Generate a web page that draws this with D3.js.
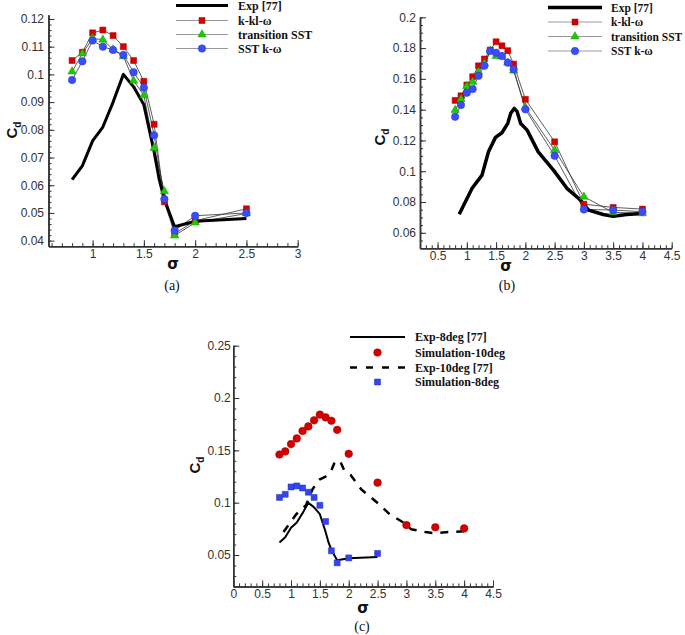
<!DOCTYPE html>
<html><head><meta charset="utf-8">
<script src="https://cdn.jsdelivr.net/npm/d3@7"></script>
<style>body{margin:0;background:#fff}svg{display:block}</style>
</head><body>
<script>
// ---------- DATA ----------
const sigmaA = [0.8,0.9,1.0,1.1,1.2,1.3,1.4,1.5,1.6,1.7,1.8,2.0,2.5];
const kklA   = [0.105,0.108,0.115,0.116,0.114,0.110,0.105,0.0975,0.082,0.054,0.0425,0.0472,0.0515];
const transA = [0.101,0.1075,0.113,0.1125,0.109,0.1065,0.0977,0.0924,0.0734,0.0578,0.0418,0.0465,0.0498];
const sstA   = [0.098,0.1047,0.1122,0.110,0.1088,0.107,0.1008,0.0952,0.078,0.055,0.0437,0.049,0.050];
const expASigma = [0.8,0.9,1.0,1.1,1.2,1.3,1.4,1.5,1.6,1.65,1.7,1.8,2.0,2.5];
const expACd    = [0.062,0.067,0.076,0.081,0.090,0.100,0.0955,0.089,0.072,0.062,0.0548,0.045,0.047,0.048];

const sigmaB = [0.8,0.9,1.0,1.1,1.2,1.3,1.4,1.5,1.6,1.7,1.8,2.0,2.5,3.0,3.5,4.0];
const kklB   = [0.146,0.149,0.156,0.1614,0.1685,0.1729,0.1787,0.1841,0.1815,0.1783,0.1696,0.1467,0.1191,0.0786,0.0765,0.0754];
const transB = [0.1397,0.1469,0.1553,0.1581,0.1646,0.170,0.1783,0.1748,0.1744,0.1705,0.1653,0.1415,0.1137,0.0834,0.0733,0.0726];
const sstB   = [0.1354,0.143,0.151,0.1534,0.162,0.1685,0.1781,0.177,0.1748,0.1705,0.1662,0.1402,0.110,0.0752,0.0748,0.0737];
const expBSigma = [0.87,1.09,1.26,1.37,1.49,1.6,1.7,1.75,1.81,1.86,1.92,2.03,2.22,2.48,2.71,2.94,3.08,3.33,3.5,3.73,4.0];
const expBCd    = [0.072,0.0889,0.0975,0.1126,0.122,0.125,0.1311,0.1376,0.1408,0.1387,0.131,0.1267,0.1126,0.1007,0.0889,0.0813,0.0747,0.0719,0.0708,0.0719,0.0726];

const legendA = ["Exp [77]","k-kl-\u03c9","transition SST","SST k-\u03c9"];
const legendC = ["Exp-8deg [77]","Simulation-10deg","Exp-10deg [77]","Simulation-8deg"];

const xTicksA = [1,1.5,2,2.5,3];
const yTicksA = [0.04,0.05,0.06,0.07,0.08,0.09,0.1,0.11,0.12];
const xTicksB = [0.5,1,1.5,2,2.5,3,3.5,4,4.5];
const yTicksB = [0.06,0.08,0.1,0.12,0.14,0.16,0.18,0.2];
const xTicksC = [0,0.5,1,1.5,2,2.5,3,3.5,4,4.5];
const yTicksC = [0.05,0.1,0.15,0.2,0.25];

// ---------- STYLE ----------
const RED="#d60000", GREEN="#1ccc00", BLUE="#3a4cff";
const svg = d3.select("body").append("svg").attr("width",685).attr("height",635);

function zip(xs, ys){ return xs.map((x,i)=>[x,ys[i]]); }
const fmt = d => String(+d.toFixed(3));

function panel(o){
  const g = svg.append("g");
  const x = d3.scaleLinear().domain(o.xd).range(o.xr);
  const y = d3.scaleLinear().domain(o.yd).range(o.yr);
  const axC = "#333";
  const xm = d3.axisBottom(x).tickValues(d3.range(o.xMinor[0], o.xMinor[1]+1e-9, o.xMinor[2])).tickSizeInner(-3).tickSizeOuter(0).tickFormat("");
  const ym = d3.axisLeft(y).tickValues(d3.range(o.yMinor[0], o.yMinor[1]+1e-9, o.yMinor[2])).tickSizeInner(-3).tickSizeOuter(0).tickFormat("");
  const xa = d3.axisBottom(x).tickValues(o.xt).tickSizeInner(-6).tickSizeOuter(0).tickPadding(3).tickFormat(fmt);
  const ya = d3.axisLeft(y).tickValues(o.yt).tickSizeInner(-6).tickSizeOuter(0).tickPadding(o.ypad).tickFormat(fmt);
  [xm,xa].forEach(a=>{
    const ga = g.append("g").attr("transform",`translate(0,${o.yr[0]})`).call(a);
    ga.select(".domain").attr("stroke",axC).attr("stroke-width",1.5);
    ga.selectAll(".tick line").attr("stroke",axC).attr("stroke-width",1);
    ga.selectAll("text").attr("font-family","Arial, 'Liberation Sans', sans-serif").attr("font-size",12).attr("fill","#333").attr("dy","0.72em");
  });
  [ym,ya].forEach(a=>{
    const ga = g.append("g").attr("transform",`translate(${o.xr[0]},0)`).call(a);
    ga.select(".domain").attr("stroke",axC).attr("stroke-width",1.5);
    ga.selectAll(".tick line").attr("stroke",axC).attr("stroke-width",1);
    ga.selectAll("text").attr("font-family","Arial, 'Liberation Sans', sans-serif").attr("font-size",12).attr("fill","#333");
  });
  const yl = g.append("text").attr("transform",`translate(${o.ylab[0]},${o.ylab[1]}) rotate(-90)`)
    .attr("text-anchor","middle").attr("font-family","Arial, 'Liberation Sans', sans-serif").attr("font-weight","bold").attr("font-size",15).attr("fill","#111");
  yl.append("tspan").text("C");
  yl.append("tspan").attr("font-size",10).attr("dy",4).text("d");
  g.append("text").attr("x",o.xlab[0]).attr("y",o.xlab[1]).attr("text-anchor","middle")
    .attr("font-family","'DejaVu Sans', Arial, sans-serif").attr("font-weight","bold").attr("font-size",15).attr("fill","#111").text("\u03c3");
  g.append("text").attr("x",o.cap[0]).attr("y",o.cap[1]).attr("text-anchor","middle")
    .attr("font-family","'Liberation Serif','Times New Roman',serif").attr("font-size",14).attr("fill","#111").text(o.capText);
  return {g,x,y};
}

function drawLine(p, pts, opt){
  const line = d3.line().x(d=>p.x(d[0])).y(d=>p.y(d[1]));
  p.g.append("path").datum(pts).attr("d",line).attr("fill","none")
    .attr("stroke",opt.color||"#000").attr("stroke-width",opt.w)
    .attr("stroke-dasharray",opt.dash||null).attr("stroke-linejoin","round").attr("stroke-linecap","butt");
}
function drawMarkers(p, pts, type, size, color){
  const sym = d3.symbol().type(type).size(size);
  p.g.append("g").selectAll("path").data(pts).join("path")
    .attr("transform",d=>`translate(${p.x(d[0])},${p.y(d[1])})`)
    .attr("d",sym).attr("fill",color).attr("stroke",d3.color(color).darker(0.8)).attr("stroke-width",0.5);
}

function legend(entries, x0, x1, tx, ys, fs){
  entries.forEach((e,i)=>{
    const y = ys[i];
    if(e.line) svg.append("line").attr("x1",x0).attr("x2",x1).attr("y1",y).attr("y2",y)
      .attr("stroke",e.line.color).attr("stroke-width",e.line.w).attr("stroke-dasharray",e.line.dash||null);
    if(e.marker) svg.append("path").attr("transform",`translate(${(x0+x1)/2},${y})`)
      .attr("d",d3.symbol().type(e.marker.type).size(e.marker.size)).attr("fill",e.marker.color)
      .attr("stroke",d3.color(e.marker.color).darker(0.8)).attr("stroke-width",0.5);
    svg.append("text").attr("x",tx).attr("y",y).attr("dy","0.35em")
      .attr("font-family","'Liberation Serif','Times New Roman',serif").attr("font-weight","bold").attr("font-size",fs).attr("fill","#111").text(e.label);
  });
}

// ---------- PANEL A ----------
const pA = panel({xd:[0.57,3.0], xr:[48.5,297.7], yd:[0.038,0.1215], yr:[246.2,14.8],
  xt:xTicksA, yt:yTicksA, xMinor:[0.6,3.0,0.1], yMinor:[0.04,0.12,0.002], ypad:4.5,
  ylab:[17,130], xlab:[173,269], cap:[172,290], capText:"(a)"});
const thin = {w:0.8,color:"#333"};
drawLine(pA, zip(sigmaA,kklA), thin);
drawLine(pA, zip(sigmaA,transA), thin);
drawLine(pA, zip(sigmaA,sstA), thin);
drawLine(pA, zip(expASigma,expACd), {w:3,color:"#000"});
drawMarkers(pA, zip(sigmaA,kklA), d3.symbolSquare, 36, RED);
drawMarkers(pA, zip(sigmaA,transA), d3.symbolTriangle, 30, GREEN);
drawMarkers(pA, zip(sigmaA,sstA), d3.symbolCircle, 44, BLUE);
legend([
  {label:legendA[0], line:{color:"#000",w:3}},
  {label:legendA[1], line:{color:"#999",w:1}, marker:{type:d3.symbolSquare,size:36,color:RED}},
  {label:legendA[2], line:{color:"#999",w:1}, marker:{type:d3.symbolTriangle,size:30,color:GREEN}},
  {label:legendA[3], line:{color:"#999",w:1}, marker:{type:d3.symbolCircle,size:44,color:BLUE}}
], 176, 228, 238, [5.5,20.5,34.5,48.5], 12);

// ---------- PANEL B ----------
const pB = panel({xd:[0.2,4.5], xr:[420,671.7], yd:[0.05,0.2], yr:[248.2,17.3],
  xt:xTicksB, yt:yTicksB, xMinor:[0.3,4.5,0.1], yMinor:[0.055,0.2,0.005], ypad:4,
  ylab:[385,137], xlab:[506,271], cap:[507,290], capText:"(b)"});
drawLine(pB, zip(sigmaB,kklB), thin);
drawLine(pB, zip(sigmaB,transB), thin);
drawLine(pB, zip(sigmaB,sstB), thin);
drawLine(pB, zip(expBSigma,expBCd), {w:3.5,color:"#000"});
drawMarkers(pB, zip(sigmaB,kklB), d3.symbolSquare, 36, RED);
drawMarkers(pB, zip(sigmaB,transB), d3.symbolTriangle, 30, GREEN);
drawMarkers(pB, zip(sigmaB,sstB), d3.symbolCircle, 44, BLUE);
legend([
  {label:legendA[0], line:{color:"#000",w:3.5}},
  {label:legendA[1], line:{color:"#999",w:1}, marker:{type:d3.symbolSquare,size:36,color:RED}},
  {label:legendA[2], line:{color:"#999",w:1}, marker:{type:d3.symbolTriangle,size:30,color:GREEN}},
  {label:legendA[3], line:{color:"#999",w:1}, marker:{type:d3.symbolCircle,size:44,color:BLUE}}
], 548, 602, 611, [7.5,22,36.5,51], 11.5);

// ---------- PANEL C ----------
const pC = panel({xd:[0,4.5], xr:[233.3,493], yd:[0.02,0.25], yr:[586.4,345.7],
  xt:xTicksC, yt:yTicksC, xMinor:[0,4.5,0.1], yMinor:[0.02,0.25,0.01], ypad:2.5,
  ylab:[200,465], xlab:[363,613], cap:[362,631], capText:"(c)"});
drawLine(pC, zip(expASigma,expACd), {w:2,color:"#000"});
drawLine(pC, zip(expBSigma,expBCd), {w:2.5,color:"#000",dash:"8,8"});
drawMarkers(pC, zip(sigmaB,kklB), d3.symbolCircle, 46, "#d40000");
drawMarkers(pC, zip(sigmaA,kklA), d3.symbolSquare, 36, "#3344f0");
legend([
  {label:legendC[0], line:{color:"#000",w:2}},
  {label:legendC[1], marker:{type:d3.symbolCircle,size:46,color:"#d40000"}},
  {label:legendC[2], line:{color:"#000",w:2.5,dash:"7,9"}},
  {label:legendC[3], marker:{type:d3.symbolSquare,size:36,color:"#3344f0"}}
], 350, 405, 415, [337,352.5,367.5,382], 12);
</script>
</body></html>
